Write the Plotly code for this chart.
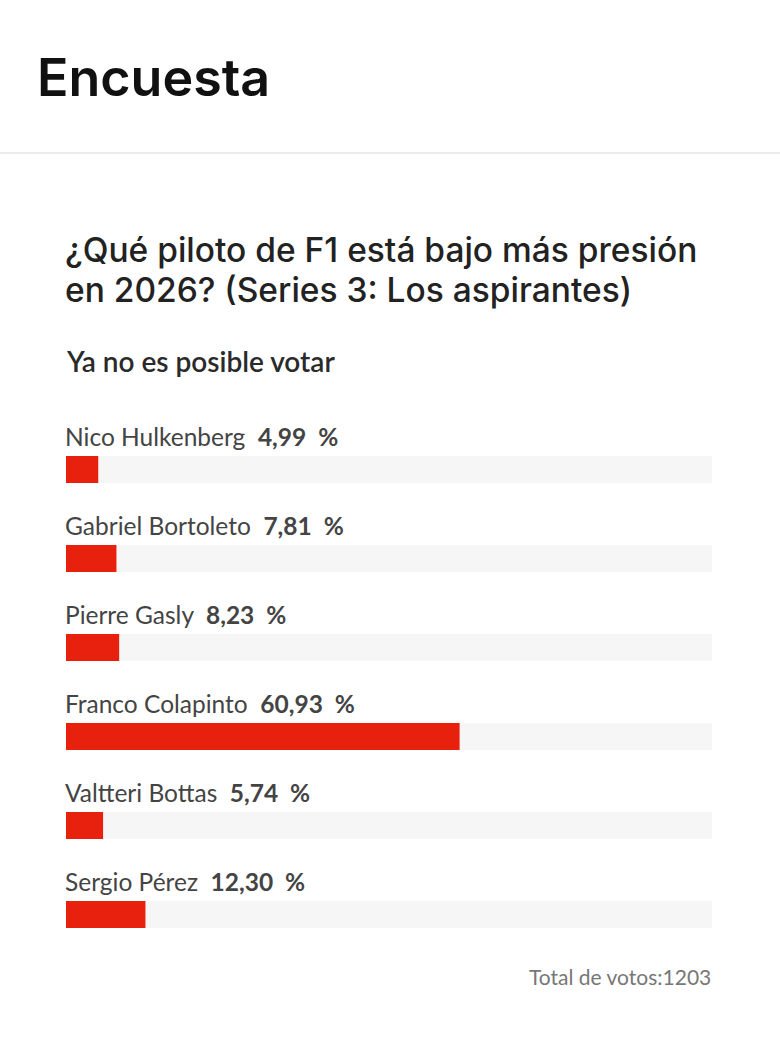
import plotly.graph_objects as go

W, H = 780, 1056

names = ["Nico Hulkenberg", "Gabriel Bortoleto", "Pierre Gasly",
         "Franco Colapinto", "Valtteri Bottas", "Sergio Pérez"]
values = [4.99, 7.81, 8.23, 60.93, 5.74, 12.30]
value_labels = ["4,99", "7,81", "8,23", "60,93", "5,74", "12,30"]
total_votes = 1203

title = "Encuesta"
question_lines = ["¿Qué piloto de F1 está bajo más presión",
                  "en 2026? (Series 3: Los aspirantes)"]
status = "Ya no es posible votar"

RED = "#e8200e"
TRACK = "#f6f6f6"

def px(x):
    return x / W

def py(y):
    return 1 - y / H

idx = list(range(len(names)))

fig = go.Figure()
fig.add_trace(go.Bar(x=[100] * len(names), y=idx, orientation="h",
                     marker=dict(color=TRACK, line=dict(width=0)),
                     width=0.3034, hoverinfo="skip"))
fig.add_trace(go.Bar(x=values, y=idx, orientation="h",
                     marker=dict(color=RED, line=dict(width=0)),
                     width=0.3034, hoverinfo="skip"))

annotations = []
annotations.append(dict(text=title, x=px(35), y=py(78), xref="paper", yref="paper",
                        xanchor="left", yanchor="middle", showarrow=False,
                        font=dict(family="Inter", size=52, color="#111111", weight=600)))
for k, line in enumerate(question_lines):
    annotations.append(dict(text=line, x=px(63), y=py(250 + 40 * k), xref="paper", yref="paper",
                            xanchor="left", yanchor="middle", showarrow=False, align="left",
                            font=dict(family="Inter", size=33.5, color="#222222", weight=500)))
annotations.append(dict(text=status, x=px(64), y=py(361), xref="paper", yref="paper",
                        xanchor="left", yanchor="middle", showarrow=False,
                        font=dict(family="Lato", size=28, color="#2a2a2a", weight=600)))
annotations.append(dict(text=f"Total de votos:{total_votes}", x=px(713), y=py(976),
                        xref="paper", yref="paper", xanchor="right", yanchor="middle",
                        showarrow=False,
                        font=dict(family="Lato", size=21, color="#777777")))

for i, (n, vl) in enumerate(zip(names, value_labels)):
    annotations.append(dict(
        text=f"{n}  <b>{vl}  %</b>", x=0, y=i - 0.375, xref="x", yref="y",
        xanchor="left", yanchor="middle", showarrow=False, xshift=-3,
        font=dict(family="Lato", size=24.5, color="#444444")))

fig.update_layout(
    width=W, height=H,
    margin=dict(l=0, r=0, t=0, b=0),
    paper_bgcolor="white", plot_bgcolor="white",
    barmode="overlay", showlegend=False,
    xaxis=dict(domain=[px(66), px(712)], range=[0, 100], visible=False, fixedrange=True),
    yaxis=dict(domain=[py(1003.5), py(380.5)], range=[6, -1], visible=False, fixedrange=True),
    annotations=annotations,
    shapes=[dict(type="line", xref="paper", yref="paper", x0=0, x1=1,
                 y0=py(153), y1=py(153), line=dict(color="#ececec", width=2))],
)

fig.write_html("out.html")
